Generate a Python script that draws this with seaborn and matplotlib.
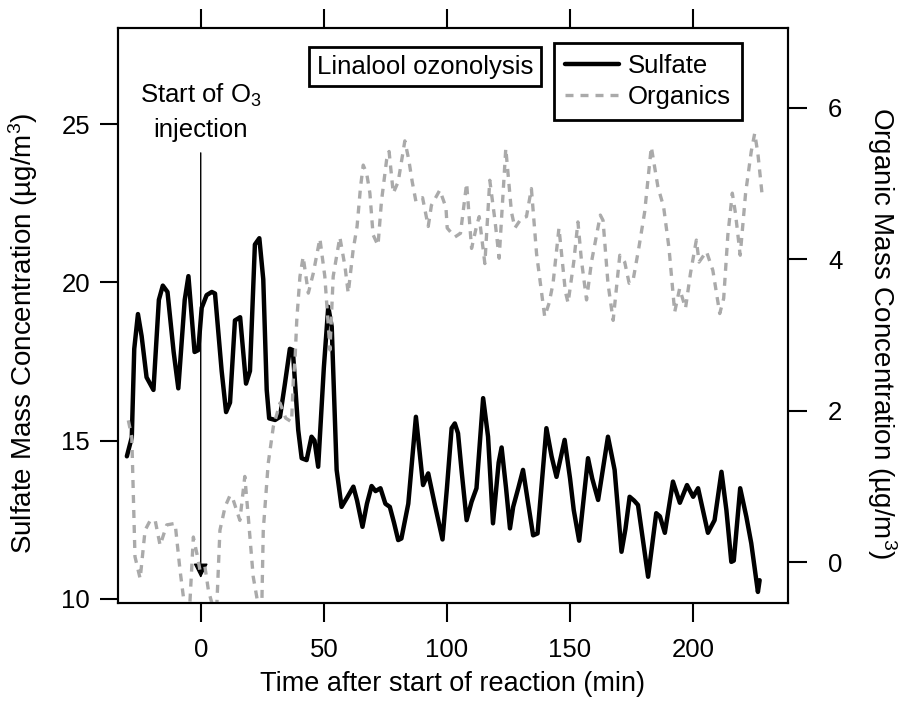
import matplotlib
matplotlib.use('Agg')
from matplotlib import pyplot as plt
import seaborn as sns

# sulfate (left axis)
time_sulfate = [-30, -28, -27, -25.5, -24, -22, -19.2, -17, -15.4, -13.5, -11, -9.1, -6.5, -5,
                -2.5, -1, 0.4, 2.4, 4.5, 5.8, 8.5, 10.3, 11.9, 13.9, 16, 18.4, 20, 22, 23.8,
                25.4, 26.8, 27.8, 30.2, 32.2, 34.2, 36.2, 37.4, 39.6, 41, 43, 45, 46.2, 47.7,
                50, 51.8, 53.2, 55.2, 57.2, 59.5, 62, 63.5, 65.7, 67.5, 69.4, 71, 73, 75, 76.8,
                78.5, 80.2, 81.5, 84.3, 87.4, 90.3, 92.4, 95, 98.2, 100, 101.9, 103.2, 104.5,
                106, 108, 110, 112, 114.7, 116.7, 118.7, 121, 122.2, 124, 125.6, 126.9, 129,
                130.9, 133, 135, 136.8, 140.4, 142.5, 144.5, 147.8, 150, 151.5, 153.7, 157.3,
                159, 161.4, 165.4, 168.1, 170.9, 172.5, 174.2, 176, 177.6, 181.7, 185, 186.5,
                188.5, 191.8, 194.6, 197.5, 200, 202, 206, 208.7, 211.5, 213.5, 215.5, 216.5,
                219.1, 221.6, 223.6, 226.3, 227]
sulfate = [14.5, 15.1, 17.9, 19.0, 18.3, 17.0, 16.6, 19.45, 19.9, 19.7, 17.8, 16.65, 19.45, 20.2,
           17.8, 17.86, 19.2, 19.6, 19.7, 19.65, 17.2, 15.9, 16.2, 18.8, 18.9, 16.8, 17.2, 21.2, 21.4,
           20.1, 16.6, 15.7, 15.65, 15.75, 16.8, 17.9, 17.86, 15.33, 14.44, 14.38, 15.12, 15.0, 14.17,
           17.3, 19.23, 18.6, 14.07, 12.9, 13.2, 13.54, 13.1, 12.27, 13.0, 13.56, 13.4, 13.49, 13.0, 12.9,
           12.4, 11.85, 11.9, 13.0, 15.75, 13.59, 13.96, 13.0, 11.87, 13.5, 15.39, 15.54, 15.23,
           14.0, 12.48, 13.06, 13.49, 16.34, 15.12, 12.38, 14.3, 14.78, 13.5, 12.22, 12.9, 13.5,
           14.07, 13.0, 12.0, 12.06, 15.39, 14.5, 13.85, 15.02, 13.8, 12.8, 11.83, 14.44,
           13.8, 13.12, 15.12, 14.07, 11.48, 12.2, 13.22, 13.1, 12.96, 10.69, 12.7, 12.6,
           12.08, 13.7, 13.03, 13.59, 13.22, 13.49, 12.08, 12.48, 14.01, 12.8, 11.16, 11.2,
           13.49, 12.59, 11.75, 10.21, 10.58]

# organics (right axis)
time_org = [-29.4, -28, -26.7, -24.6, -22.6, -20.5, -18.5, -16.5, -13.8, -12, -10.4, -8.4, -6.5,
            -4.5, -3, -1.5, -0.3, 1.7, 3.1, 5, 6.5, 7.8, 9.9, 11.9, 13.2, 15.9, 17.9, 19.3, 21.3,
            23.5, 24.8, 25.4, 27.4, 29.5, 32.2, 34.5, 36.9, 37.6, 38.3, 39, 40.3, 41.6, 43.7, 45.7,
            48.4, 50.4, 52.5, 53.8, 56.5, 58.6, 59.9, 61.9, 63.5, 64.9, 66, 67.4, 68.7, 70, 72,
            73.4, 75.5, 76.5, 78.2, 80.2, 82.9, 84.5, 85.9, 87.4, 90.1, 92.4, 93.7, 97.1, 99.6,
            100.1, 103.2, 105.5, 108, 110, 112, 113.1, 115.4, 117.4, 119.5, 121.2, 123.9, 126.2,
            127.6, 130.3, 132.3, 134.3, 136.4, 139.7, 141.5, 143.1, 145.5, 148.1, 149.2, 151.5,
            153.2, 154.6, 156.7, 158.7, 162.3, 163.4, 165.4, 167.5, 170.2, 172.2, 174, 175.6,
            178, 180.3, 183, 185.7, 188, 190.2, 192.5, 194.5, 196.9, 198.9, 201.3, 202.4, 205.4,
            208, 210.8, 212.4, 214.1, 215.9, 217.2, 219.1, 221.3, 223.6, 225, 226.3, 228.1]
organics = [1.87, 1.65, 0.07, -0.22, 0.42, 0.55, 0.55, 0.22, 0.49, 0.5, 0.51, -0.11, -0.6,
            -0.6, 0.33, 0.1, -0.11, -0.06, -0.37, -0.6, -0.6, 0.42, 0.73, 0.88, 0.82, 0.55, 1.13, 0.6, -0.19,
            -0.6, -0.6, 0.42, 1.3, 1.79, 2.1, 1.9, 1.85, 2.4, 2.67, 3.19, 3.77, 4.03, 3.55, 3.81,
            4.27, 3.77, 2.8, 3.77, 4.29, 3.9, 3.55, 4.12, 4.43, 4.95, 5.24, 5.13, 4.87, 4.32, 4.18,
            4.76, 5.31, 5.42, 4.87, 5.02, 5.56, 5.31, 5.02, 4.76, 4.81, 4.43, 4.71, 4.91, 4.68,
            4.41, 4.29, 4.34, 5.0, 4.14, 4.43, 4.56, 3.94, 5.04, 4.51, 4.01, 5.46, 4.62,
            4.41, 4.54, 4.56, 4.93, 4.07, 3.24, 3.42, 3.68, 4.41, 3.57, 3.42, 3.96,
            4.49, 3.99, 3.46, 3.96, 4.58, 4.51, 3.68, 3.19, 4.05, 3.96, 3.68, 3.72,
            4.16, 4.62, 5.48, 4.95, 4.69, 4.14, 3.3, 3.61, 3.35, 3.81, 4.25, 3.96, 4.1,
            3.85, 3.28, 3.48, 4.32, 4.87, 4.6, 4.05, 4.87, 5.42, 5.66, 5.39, 4.82]

x_ticks = [0, 50, 100, 150, 200]
left_ticks = [10, 15, 20, 25]
right_ticks = [0, 2, 4, 6]

sns.set_theme(style='ticks')
plt.rcParams['font.family'] = ['Liberation Sans', 'DejaVu Sans']
plt.rcParams['mathtext.fontset'] = 'custom'
plt.rcParams['mathtext.rm'] = 'Liberation Sans'
plt.rcParams['mathtext.it'] = 'Liberation Sans:italic'
for key in ['text.color', 'axes.labelcolor', 'xtick.color', 'ytick.color', 'axes.edgecolor']:
    plt.rcParams[key] = 'black'

fs = 18.5
fs_lab = 19.5
fig = plt.figure(figsize=(8.99, 7.02), dpi=100)
ax = fig.add_axes([118 / 899, 1 - 603.3 / 702, 669.7 / 899, 575.3 / 702])
sns.lineplot(x=time_sulfate, y=sulfate, ax=ax, color='black', lw=3.2, legend=False)
ax2 = ax.twinx()
sns.lineplot(x=time_org, y=organics, ax=ax2, color='#aaaaaa', lw=2.4,
             linestyle=(0, (2.4, 2.1)), legend=False)

ax.set_xlim(-33.6, 238.4)
ax.set_ylim(9.85, 28.05)
ax2.set_ylim(-0.545, 7.05)
ax.set_xticks(x_ticks)
ax.set_yticks(left_ticks)
ax2.set_yticks(right_ticks)

for a in (ax, ax2):
    for s in a.spines.values():
        s.set_linewidth(1.5)
        s.set_color('black')
ax.tick_params(axis='x', top=True, bottom=True, labeltop=False, direction='out',
               length=14, width=1.5, labelsize=fs, pad=11)
ax.tick_params(axis='y', direction='out', length=13, width=1.5, labelsize=fs, pad=7)
ax2.tick_params(axis='y', direction='out', length=14, width=1.5, labelsize=fs, pad=15)

ax.set_xlabel('Time after start of reaction (min)', fontsize=fs_lab)
ax.set_ylabel('Sulfate Mass Concentration (µg/m$^3$)', fontsize=20)
ax2.set_ylabel('Organic Mass Concentration (µg/m$^3$)', fontsize=20, rotation=270,
               va='bottom')
ax.xaxis.set_label_coords(0.5, -0.118)
ax.yaxis.set_label_coords(-0.1165, 0.47)
ax2.yaxis.set_label_coords(1.1154, 0.47)

# O3 injection marker
ax.annotate('', xy=(0, 10.65), xytext=(0, 24.1),
            arrowprops=dict(arrowstyle='-|>', lw=1, color='black', mutation_scale=22,
                            shrinkA=0, shrinkB=0))
ax.text(0, 26.36, 'Start of O$_3$\ninjection', ha='center', va='top', fontsize=fs,
        linespacing=1.5)

ax.text(0.458, 0.933, 'Linalool ozonolysis', transform=ax.transAxes, ha='center',
        va='center', fontsize=fs,
        bbox=dict(boxstyle='square,pad=0.3', facecolor='white', edgecolor='black', lw=2))

handles = [ax.get_lines()[0], ax2.get_lines()[0]]
leg = ax2.legend(handles, ['Sulfate', 'Organics'], loc='upper left',
                 bbox_to_anchor=(0.651, 0.974), borderaxespad=0, frameon=True,
                 fancybox=False, edgecolor='black', framealpha=1, fontsize=fs,
                 handlelength=2.1, handletextpad=0.35, borderpad=0.42, labelspacing=0.28)
leg.get_frame().set_linewidth(2)

plt.savefig('out.png', dpi=100)
